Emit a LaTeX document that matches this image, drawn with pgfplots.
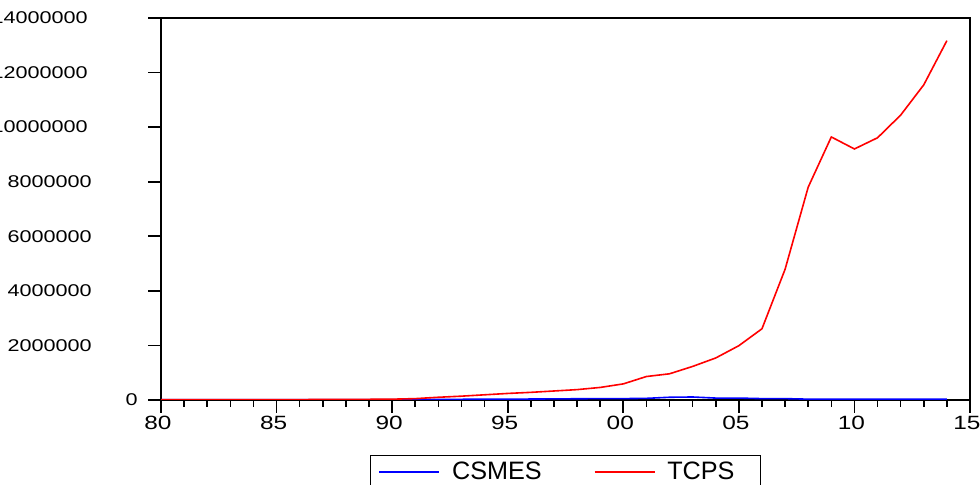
\documentclass[border=0pt]{standalone}
\usepackage{fontspec}
\setmainfont{Liberation Sans}
\newfontfamily\tickfont{Liberation Sans}[FakeStretch=1.27]
\usepackage{pgfplots}
\usepackage{pgfplotstable}
\pgfplotsset{compat=1.18}

\pgfplotstableread{
year csmes tcps
1980 10000 10000
1981 10000 10000
1982 10000 10000
1983 10000 10000
1984 10000 10000
1985 10000 12000
1986 10000 15000
1987 10000 18000
1988 10000 20000
1989 10000 25000
1990 10000 30000
1991 15000 50000
1992 20000 100000
1993 25000 140000
1994 30000 190000
1995 30000 240000
1996 35000 280000
1997 40000 330000
1998 45000 380000
1999 50000 460000
2000 50000 590000
2001 60000 860000
2002 100000 960000
2003 110000 1230000
2004 70000 1540000
2005 70000 1990000
2006 50000 2610000
2007 50000 4790000
2008 30000 7800000
2009 30000 9640000
2010 30000 9200000
2011 30000 9610000
2012 30000 10440000
2013 30000 11550000
2014 30000 13170000
}\datatable

% invisible padding so the long labels sit further left, as in the original
\newcommand{\pad}[1]{\rule{#1}{0pt}}

\begin{document}
\begin{tikzpicture}
\path[use as bounding box] (0,0) rectangle (490pt,242.5pt);
\begin{axis}[
    overlay,
    at={(80.5pt,42.5pt)}, anchor=south west,
    scale only axis, width=404.5pt, height=191pt,
    xmin=1980, xmax=2015,
    ymin=0, ymax=14000000,
    scaled y ticks=false,
    xtick={1980,1985,...,2015},
    xticklabels={80,85,90,95,00,05,10,15},
    minor x tick num=4,
    ytick={0,2000000,4000000,6000000,8000000,10000000,12000000,14000000},
    yticklabels={0,{2000000\pad{23pt}},{4000000\pad{23pt}},{6000000\pad{23pt}},{8000000\pad{23pt}},{10000000\pad{25pt}},{12000000\pad{25pt}},{14000000\pad{25pt}}},
    /pgf/number format/assume math mode=true,
    tick align=outside,
    xtick pos=bottom, ytick pos=left,
    major tick length=6.5pt, minor tick length=3.5pt,
    every tick/.style={black, line width=0.8pt},
    axis line style={line width=1pt},
    xticklabel style={font=\tickfont\fontsize{9.6}{10}\selectfont, inner sep=0pt, anchor=north, yshift=-1.5pt, xshift=-1.5pt},
    yticklabel style={font=\tickfont\fontsize{8.5}{9}\selectfont, inner sep=0pt, anchor=east, xshift=-5pt},
    legend style={at={(0.5,0)}, anchor=north, yshift=-27.5pt, draw=black, line width=0.75pt,
        font=\fontsize{12.6}{13}\selectfont, legend columns=2,
        inner xsep=4pt, inner ysep=1pt,
        /tikz/every odd column/.append style={column sep=4pt},
        /tikz/every even column/.append style={column sep=24pt}},
    legend image code/.code={\draw[#1] (0pt,0pt) -- (30pt,0pt);},
]
\addplot[blue, line width=0.8pt] table[x=year, y=csmes] {\datatable};
\addlegendentry{CSMES}
\addplot[red, line width=0.8pt] table[x=year, y=tcps] {\datatable};
\addlegendentry{TCPS\rule{7pt}{0pt}}
\end{axis}
\end{tikzpicture}
\end{document}
